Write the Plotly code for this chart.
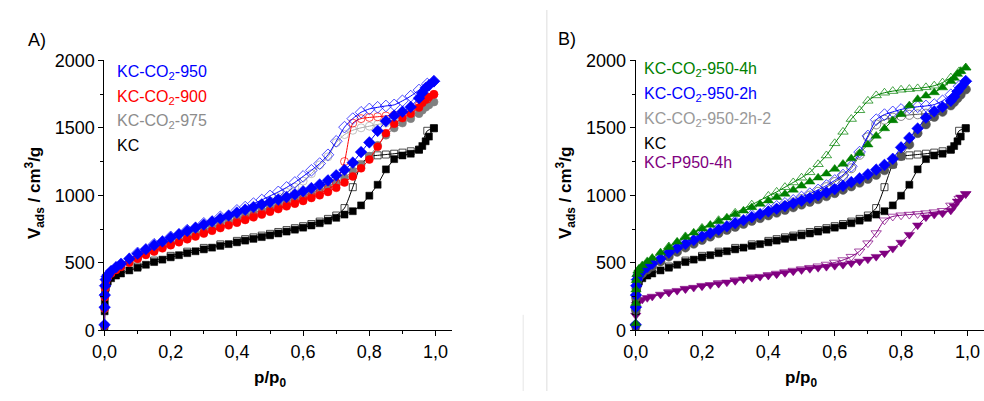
import plotly.graph_objects as go

# ---------------- data ----------------
P_ADS = [0.0001, 0.0005, 0.001, 0.002, 0.004, 0.007, 0.01, 0.02, 0.035, 0.05,
         0.075, 0.1, 0.125, 0.15, 0.175, 0.2, 0.225, 0.25, 0.275, 0.3,
         0.325, 0.35, 0.375, 0.4, 0.425, 0.45, 0.475, 0.5, 0.525, 0.55,
         0.575, 0.6, 0.625, 0.65, 0.675, 0.7, 0.725, 0.75, 0.775, 0.8,
         0.825, 0.85, 0.875, 0.9, 0.925, 0.95, 0.96, 0.97, 0.98, 0.995]
P_DES = [0.995, 0.975, 0.95, 0.925, 0.9, 0.875, 0.85, 0.825, 0.8, 0.775,
         0.75, 0.725, 0.7, 0.675, 0.65, 0.625, 0.6, 0.575, 0.55, 0.525,
         0.5, 0.475, 0.45, 0.425, 0.4, 0.35, 0.3, 0.25, 0.2, 0.15, 0.1]

KC_ADS = [30, 140, 210, 270, 315, 345, 362, 385, 405, 420,
          443, 463, 485, 505, 523, 540, 556, 571, 585, 599,
          612, 625, 638, 651, 664, 677, 690, 703, 717, 731,
          745, 760, 776, 793, 812, 833, 857, 882, 925, 997,
          1078, 1192, 1268, 1295, 1308, 1338, 1365, 1400, 1435, 1497]
KC_DES = [1497, 1478, 1338, 1326, 1316, 1308, 1302, 1296, 1288, 1228,
          1060, 905, 850, 825, 805, 787, 771, 756, 742, 728,
          714, 701, 688, 675, 662, 636, 610, 582, 551, 516, 472]

CO2_950_ADS = [40, 170, 260, 330, 375, 398, 410, 438, 467, 492,
               530, 567, 600, 630, 658, 687, 712, 736, 760, 783,
               806, 828, 850, 872, 893, 913, 932, 950, 968, 987,
               1007, 1030, 1053, 1080, 1110, 1148, 1188, 1242, 1320, 1392,
               1478, 1550, 1590, 1620, 1655, 1720, 1760, 1795, 1815, 1845]
CO2_950_DES = [1845, 1825, 1780, 1735, 1700, 1670, 1662, 1652, 1640, 1615,
               1568, 1505, 1400, 1300, 1235, 1185, 1140, 1095, 1058, 1025,
               995, 965, 938, 912, 888, 840, 792, 742, 692, 637, 573]

CO2_900_ADS = [35, 160, 245, 310, 355, 380, 393, 420, 447, 468,
               500, 530, 558, 583, 607, 630, 652, 674, 695, 716,
               737, 757, 777, 797, 817, 837, 857, 878, 898, 918,
               938, 958, 980, 1000, 1025, 1055, 1095, 1140, 1200, 1265,
               1360, 1460, 1530, 1572, 1605, 1650, 1685, 1710, 1728, 1748]
CO2_900_DES = [1748, 1712, 1665, 1630, 1600, 1594, 1588, 1582, 1577, 1568,
               1535, 1250, 1090, 1045, 1015, 992, 970, 948, 927, 906,
               886, 865, 845, 825, 805, 765, 723, 680, 635, 588, 534]

CO2_975_ADS = [35, 160, 250, 315, 360, 385, 398, 424, 450, 472,
               505, 536, 566, 594, 620, 645, 669, 694, 718, 741,
               764, 786, 808, 829, 850, 870, 890, 911, 930, 950,
               970, 992, 1015, 1040, 1065, 1095, 1130, 1180, 1225, 1290,
               1370, 1445, 1498, 1535, 1568, 1605, 1630, 1652, 1670, 1692]
CO2_975_DES = [1692, 1665, 1630, 1588, 1560, 1545, 1535, 1525, 1512, 1500,
               1482, 1450, 1390, 1285, 1225, 1160, 1105, 1060, 1022, 988,
               958, 932, 907, 882, 858, 808, 758, 706, 654, 600, 542]

H4_ADS = [50, 200, 300, 370, 415, 440, 455, 480, 510, 535,
          575, 615, 655, 690, 722, 752, 780, 808, 834, 860,
          885, 910, 935, 960, 985, 1010, 1040, 1070, 1100, 1130,
          1160, 1195, 1232, 1272, 1312, 1375, 1440, 1495, 1555, 1600,
          1665, 1712, 1738, 1762, 1798, 1845, 1870, 1898, 1920, 1946]
H4_DES = [1946, 1918, 1872, 1835, 1812, 1800, 1792, 1787, 1782, 1772,
          1760, 1740, 1700, 1630, 1565, 1470, 1385, 1295, 1230, 1170,
          1130, 1095, 1060, 1025, 995, 930, 870, 815, 758, 695, 620]

H2_ADS = [40, 170, 260, 330, 375, 400, 415, 440, 470, 495,
          530, 575, 610, 640, 668, 695, 720, 745, 770, 793,
          815, 838, 860, 880, 900, 920, 940, 960, 980, 1000,
          1022, 1045, 1070, 1098, 1125, 1155, 1190, 1225, 1270, 1355,
          1425, 1495, 1575, 1622, 1655, 1700, 1730, 1770, 1800, 1845]
H2_DES = [1845, 1808, 1745, 1700, 1672, 1662, 1656, 1648, 1636, 1618,
          1598, 1560, 1440, 1320, 1215, 1150, 1110, 1072, 1040, 1012,
          987, 962, 940, 918, 897, 852, 805, 757, 707, 652, 585]

H2B_ADS = [35, 150, 240, 310, 355, 380, 395, 420, 448, 472,
           508, 545, 580, 612, 640, 668, 693, 718, 742, 765,
           787, 809, 830, 850, 870, 890, 910, 930, 950, 970,
           992, 1015, 1040, 1065, 1092, 1120, 1150, 1185, 1230, 1290,
           1375, 1460, 1525, 1580, 1618, 1665, 1690, 1718, 1745, 1785]
H2B_DES = [1785, 1745, 1680, 1630, 1612, 1605, 1600, 1596, 1588, 1576,
           1560, 1525, 1430, 1300, 1200, 1140, 1098, 1060, 1026, 998,
           972, 947, 922, 898, 875, 830, 784, 736, 686, 632, 565]

P950_ADS = [30, 110, 160, 190, 205, 212, 218, 228, 240, 250,
            265, 280, 293, 305, 316, 326, 336, 345, 355, 366,
            378, 389, 397, 405, 415, 425, 436, 446, 455, 463,
            471, 478, 486, 497, 510, 525, 545, 570, 605, 650,
            708, 778, 838, 857, 866, 888, 920, 955, 985, 1010]
P950_DES = [1010, 975, 925, 885, 875, 868, 862, 857, 852, 843,
            815, 720, 645, 585, 545, 520, 502, 487, 474, 463,
            453, 442, 431, 420, 410, 393, 371, 350, 330, 308, 283]

X_TICKS = [0, 0.2, 0.4, 0.6, 0.8, 1.0]
X_TICK_TEXT = ["0,0", "0,2", "0,4", "0,6", "0,8", "1,0"]
Y_TICKS = [0, 500, 1000, 1500, 2000]
Y_TICK_TEXT = ["0", "500", "1000", "1500", "2000"]

NAMES_A = ["KC-CO<sub>2</sub>-950", "KC-CO<sub>2</sub>-900", "KC-CO<sub>2</sub>-975", "KC"]
NAMES_B = ["KC-CO<sub>2</sub>-950-4h", "KC-CO<sub>2</sub>-950-2h", "KC-CO<sub>2</sub>-950-2h-2",
           "KC", "KC-P950-4h"]

# ---------------- styles ----------------
FONT = "Arial, 'Liberation Sans', sans-serif"
W, H = 984, 401

# (ads, des, symbol, filled colour, open/line colour, marker size)
SERIES_A = [
    (KC_ADS, KC_DES, "square", "#000000", "#000000", 7),
    (CO2_975_ADS, CO2_975_DES, "circle", "#808080", "#a8a8a8", 8),
    (CO2_900_ADS, CO2_900_DES, "circle", "#ff0000", "#ff0000", 8),
    (CO2_950_ADS, CO2_950_DES, "diamond", "#0000ff", "#0000ff", 9),
]
LEG_A_COLORS = ["#0000ff", "#ff0000", "#8c8c8c", "#000000"]
SERIES_B = [
    (P950_ADS, P950_DES, "triangle-down", "#800080", "#800080", 9),
    (KC_ADS, KC_DES, "square", "#000000", "#000000", 7),
    (H2B_ADS, H2B_DES, "circle", "#555555", "#555555", 9),
    (H2_ADS, H2_DES, "diamond", "#0000ff", "#0000ff", 9),
    (H4_ADS, H4_DES, "triangle-up", "#008000", "#008000", 9),
]
LEG_B_COLORS = ["#008000", "#0000ff", "#999999", "#000000", "#800080"]

fig = go.Figure()


def add_series(series, xa, ya):
    for ads, des, sym, fc, oc, sz in series:
        fig.add_trace(go.Scatter(
            x=P_DES, y=des, xaxis=xa, yaxis=ya, mode="lines+markers",
            line=dict(color=oc, width=1, shape="spline", smoothing=0.6),
            marker=dict(symbol=sym + "-open", size=sz, color=oc, opacity=0.7,
                        line=dict(width=1, color=oc)),
            showlegend=False, cliponaxis=False))
        fig.add_trace(go.Scatter(
            x=P_ADS, y=ads, xaxis=xa, yaxis=ya, mode="lines+markers",
            line=dict(color=fc, width=1),
            marker=dict(symbol=sym, size=sz, color=fc, line=dict(width=0.5, color=fc)),
            showlegend=False, cliponaxis=False))


add_series(SERIES_A, "x", "y")
add_series(SERIES_B, "x2", "y2")

ydom = [1 - 337 / H, 1 - 53 / H]
xdomA = [92.7 / W, 445 / W]
xdomB = [631 / W, 1.0]

axis_common = dict(showline=True, linecolor="black", linewidth=1, ticks="outside",
                   ticklen=5, tickwidth=1, tickcolor="black", showgrid=False,
                   zeroline=False, mirror=False,
                   tickfont=dict(family=FONT, size=18, color="black"))

xcommon = dict(axis_common, range=[0, 1.05], tickmode="array", tickvals=X_TICKS,
               ticktext=X_TICK_TEXT,
               minor=dict(tickmode="linear", tick0=0, dtick=0.1, ticks="outside",
                          ticklen=3, tickcolor="black", tickwidth=1))
ycommon = dict(axis_common, range=[0, 2000], tickmode="array", tickvals=Y_TICKS,
               ticktext=Y_TICK_TEXT,
               minor=dict(tickmode="linear", tick0=0, dtick=250, ticks="outside",
                          ticklen=3, tickcolor="black", tickwidth=1))

fig.update_layout(
    width=W, height=H, margin=dict(l=0, r=0, t=0, b=0),
    paper_bgcolor="white", plot_bgcolor="white",
    font=dict(family=FONT, color="black"),
    xaxis=dict(xcommon, domain=xdomA, anchor="y"),
    yaxis=dict(ycommon, domain=ydom, anchor="x"),
    xaxis2=dict(xcommon, domain=xdomB, anchor="y2"),
    yaxis2=dict(ycommon, domain=ydom, anchor="x2"),
)

ann = []
for name, col, py in zip(NAMES_A, LEG_A_COLORS, [66, 92, 117, 143]):
    ann.append(dict(xref="paper", yref="paper", x=103 / W, y=1 - py / H, text=name,
                    xanchor="left", yanchor="middle", showarrow=False,
                    font=dict(family=FONT, size=16, color=col)))
for name, col, py in zip(NAMES_B, LEG_B_COLORS, [63, 89, 115, 140, 161]):
    ann.append(dict(xref="paper", yref="paper", x=637 / W, y=1 - py / H, text=name,
                    xanchor="left", yanchor="middle", showarrow=False,
                    font=dict(family=FONT, size=16, color=col)))
ann.append(dict(xref="paper", yref="paper", x=13 / W, y=1 - 32 / H, text="A)",
                xanchor="left", yanchor="middle", showarrow=False,
                font=dict(family=FONT, size=18, color="black")))
ann.append(dict(xref="paper", yref="paper", x=550 / W, y=1 - 31 / H, text="B)",
                xanchor="left", yanchor="middle", showarrow=False,
                font=dict(family=FONT, size=18, color="black")))
for xr in ["x", "x2"]:
    ann.append(dict(xref=xr, yref="paper", x=0.5, y=1 - 388 / H,
                    text="<b>p/p<sub>0</sub></b>", xanchor="center", yanchor="middle",
                    showarrow=False, font=dict(family=FONT, size=17, color="black")))
for px in [22, 560]:
    ann.append(dict(xref="paper", yref="paper", x=px / W, y=1 - 193 / H,
                    text="<b>V<sub>ads</sub> / cm<sup>3</sup>/g</b>", textangle=-90,
                    xanchor="center", yanchor="middle", showarrow=False,
                    font=dict(family=FONT, size=17, color="black")))
fig.update_layout(annotations=ann)

fig.add_shape(type="line", xref="paper", yref="paper", x0=541 / W, x1=541 / W, y0=0, y1=1,
              line=dict(color="#dddddd", width=1))
fig.add_shape(type="line", xref="paper", yref="paper", x0=517 / W, x1=517 / W, y0=0, y1=0.2,
              line=dict(color="#e6e6e6", width=1))

NO_MARGIN_JS = ("document.documentElement.style.margin='0';"
                "document.body.style.margin='0';document.body.style.padding='0';"
                "document.documentElement.style.overflow='hidden';"
                "document.body.style.overflow='hidden';")

fig.write_html("out.html", post_script=NO_MARGIN_JS)
